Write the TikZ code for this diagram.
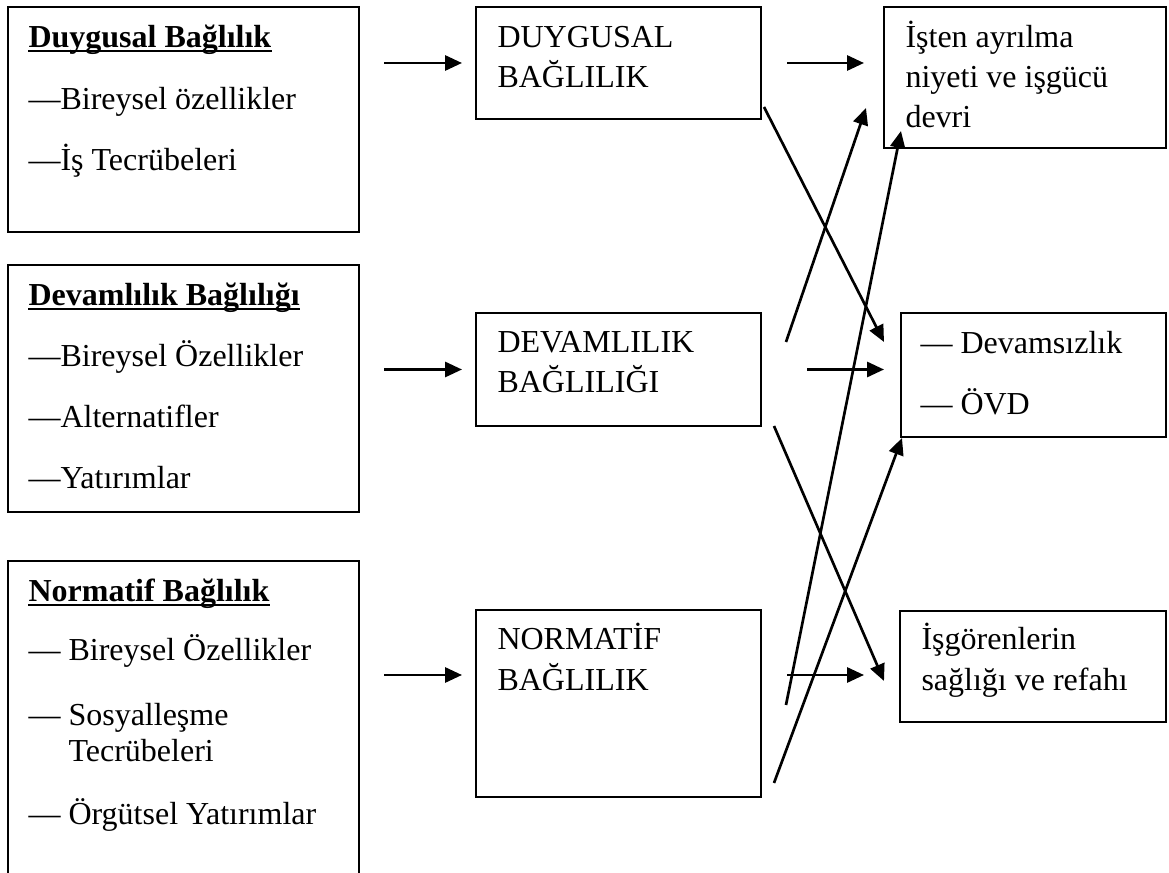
\documentclass[tikz,border=0pt]{standalone}
\usepackage{fontspec}
\setmainfont{Liberation Serif}
\usetikzlibrary{arrows.meta,calc}

\begin{document}
\begin{tikzpicture}[x=0.375pt,y=-0.375pt,
  box/.style={draw,line width=0.75pt,inner sep=0,outer sep=0,anchor=north west},
  sz/.style 2 args={minimum width=#1*0.375pt,minimum height=#2*0.375pt},
  txt/.style={inner sep=0,anchor=base west,font=\fontsize{12}{14}\selectfont},
  ok/.style={line width=1pt,-{Triangle[length=6.3pt,width=5.6pt]}}]
\clip (0,0) rectangle (1169,873);

% left boxes
\node[box,sz={351}{225}] (dk) at (8,7) {};
\node[box,sz={351}{247}] (vk) at (8,265) {};
\node[box,sz={351}{330}] (nk) at (8,561) {};
\node[txt] (dk0) at (28,48) {\textbf{Duygusal Bağlılık}};
\node[txt] (dk1) at (28,110) {—Bireysel özellikler};
\node[txt] (dk2) at (28,171) {—İş Tecrübeleri};
\node[txt] (vk0) at (28,306) {\textbf{Devamlılık Bağlılığı}};
\node[txt] (vk1) at (28,367) {—Bireysel Özellikler};
\node[txt] (vk2) at (28,428) {—Alternatifler};
\node[txt] (vk3) at (28,489) {—Yatırımlar};
\node[txt] (nk0) at (28,602) {\textbf{Normatif Bağlılık}};
\node[txt] (nk1) at (28,661) {— Bireysel Özellikler};
\node[txt] (nk2) at (28,725) {— Sosyalleşme};
\node[txt] (nk3) at (68,762) {Tecrübeleri};
\node[txt] (nk4) at (28,825) {— Örgütsel Yatırımlar};
\foreach \h in {dk0,vk0,nk0}
  \draw[line width=0.7pt] ($(\h.base west)+(0,3)$) -- ($(\h.base east)+(0,3)$);

% middle boxes
\node[box,sz={285}{112}] (db) at (476,7) {};
\node[box,sz={285}{113}] (vb) at (476,313) {};
\node[box,sz={285}{187}] (nb) at (476,610) {};
\node[txt] (db1) at (497,48) {DUYGUSAL};
\node[txt] (db2) at (497,88) {BAĞLILIK};
\node[txt] (vb1) at (497,353) {DEVAMLILIK};
\node[txt] (vb2) at (497,393) {BAĞLILIĞI};
\node[txt] (nb1) at (497,650) {NORMATİF};
\node[txt] (nb2) at (497,690) {BAĞLILIK};

% right boxes
\node[box,sz={282}{141}] (ia) at (884,7) {};
\node[box,sz={265}{124}] (dv) at (901,313) {};
\node[box,sz={266}{111}] (sr) at (900,611) {};
\node[txt] (ia1) at (905,48) {İşten ayrılma};
\node[txt] (ia2) at (905,88) {niyeti ve işgücü};
\node[txt] (ia3) at (905,128) {devri};
\node[txt] (dv1) at (920,354) {— Devamsızlık};
\node[txt] (dv2) at (920,415) {— ÖVD};
\node[txt] (sr1) at (921,650) {İşgörenlerin};
\node[txt] (sr2) at (921,691) {sağlığı ve refahı};

% arrows
\draw[ok] ($(db.west)+(-92,0)$) -- ($(db.west)+(-14,0)$);
\draw[ok] ($(vb.west)+(-92,0)$) -- ($(vb.west)+(-14,0)$);
\draw[ok] ($(nb.north west)+(-92,65)$) -- ($(nb.north west)+(-14,65)$);
\draw[ok] ($(db.east)+(26,0)$) -- ($(ia.west |- db.east)+(-20,0)$);
\draw[ok] ($(vb.east)+(46,0)$) -- ($(dv.west |- vb.east)+(-17,0)$);
\draw[ok] ($(nb.north east)+(26,65)$) -- ($(sr.west |- nb.north east)+(-36,65)$);
\draw[ok] ($(db.south east)+(3,-12)$) -- ($(dv.north west)+(-17,29)$);
\draw[ok] ($(vb.south east)+(13,0)$) -- ($(sr.north west)+(-16,70)$);
\draw[ok] ($(vb.north east)+(25,29)$) -- ($(ia.south west)+(-18,-40)$);
\draw[ok] ($(nb.north east)+(25,95)$) -- ($(ia.south west)+(17,-17)$);
\draw[ok] ($(nb.south east)+(13,-14)$) -- ($(dv.south west)+(1,1)$);
\end{tikzpicture}
\end{document}
